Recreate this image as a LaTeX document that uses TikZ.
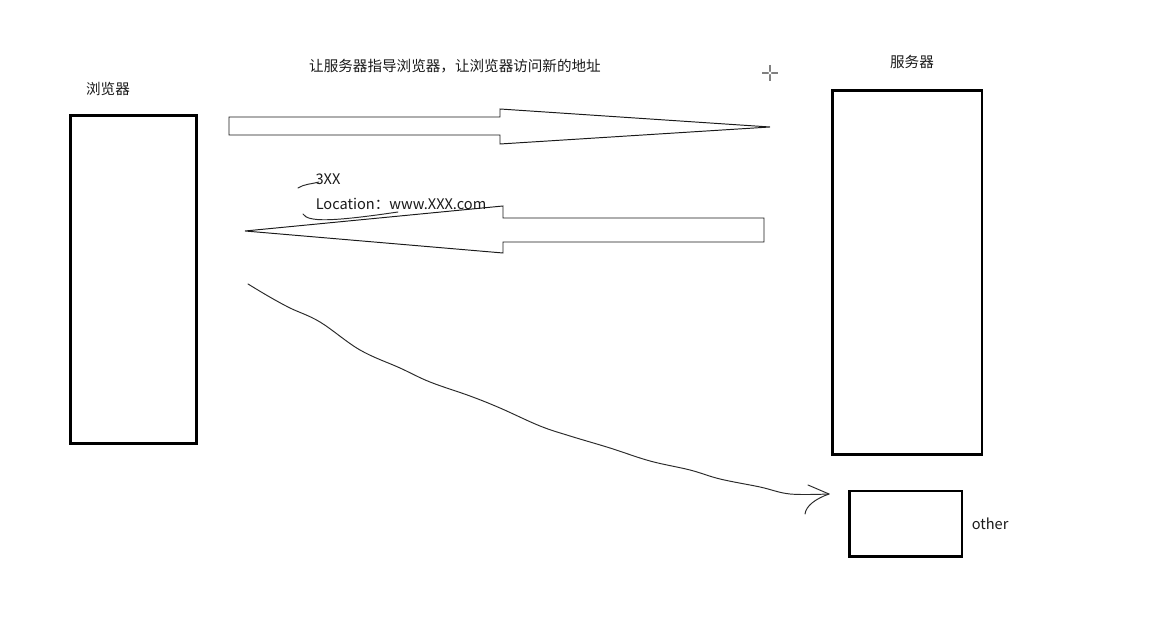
\documentclass[tikz,border=0pt]{standalone}
\usepackage{fontspec}
\setmainfont{Noto Sans CJK SC}
\usepackage{tikz}
\usetikzlibrary{positioning,calc}
\definecolor{inkline}{HTML}{1A1A1A}
\definecolor{penline}{HTML}{2B2B2B}

\begin{document}
\begin{tikzpicture}[x=0.02cm, y=-0.02cm,
    box/.style={draw=black, line width=1.7pt, inner sep=0pt},
    lbl/.style={font=\fontsize{8.3}{9}\selectfont, text=inkline, inner sep=0pt},
    blockarrow/.style={draw=inkline, line width=0.55pt, fill=white, line join=miter},
    pen/.style={draw=penline, line width=0.55pt, line cap=round}]
  \useasboundingbox[fill=white] (0,0) rectangle (1163,617);
  % browser, server and the other server
  \node[box, minimum width=2.54cm, minimum height=6.58cm] (browser) at (133.5,279.5) {};
  \node[box, minimum width=3.0cm, minimum height=7.3cm] (server) at (907,272.5) {};
  \node[box, minimum width=2.26cm, minimum height=1.32cm] (other) at (905.5,524) {};
  \node[lbl] (browserlbl) at (108,89) {浏览器};
  \node[lbl] (serverlbl) at (912,62) {服务器};
  \node[lbl, right=4.5pt of other] (otherlbl) {other};
  \node[lbl] (title) at (455,66) {让服务器指导浏览器，让浏览器访问新的地址};
  % request arrow
  \draw[blockarrow] (229,117) -- (500,117) -- (500,109) -- (770,127)
    -- (500,144) -- (500,135) -- (229,135) -- cycle;
  % redirect answer
  \draw[blockarrow] (764,218) -- (503,218) -- (503,206) -- (245,231)
    -- (503,253) -- (503,242) -- (764,242) -- cycle;
  \node[lbl] (code) at (328,179) {3XX};
  \node[lbl] (location) at (401,204) {Location：www.XXX.com};
  \draw[pen] (298,188) .. controls (304,184) and (312,184) .. (319,182);
  \draw[pen] (303,214) .. controls (308,222) and (330,222) .. (398,212);
  % hand drawn jump to the new address
  \coordinate (from) at (248,284);
  \coordinate (to) at (829,494);
  \draw[pen] plot[smooth, tension=0.6] coordinates {(from) (268,296) (290,308)
    (320,322) (360,350) (400,368) (430,382) (470,396) (500,408) (540,426)
    (570,436) (610,448) (650,461) (690,470) (720,479) (760,487) (790,494) (to)};
  \draw[pen] (808,485) -- (to);
  \draw[pen] (to) .. controls (815,499) and (806,506) .. (805,514);
  % cursor
  \draw[gray, line width=0.9pt] (762,73) -- (778,73) (770,65) -- (770,81);
  \fill[white] (770,73) circle (1.6);
\end{tikzpicture}
\end{document}
